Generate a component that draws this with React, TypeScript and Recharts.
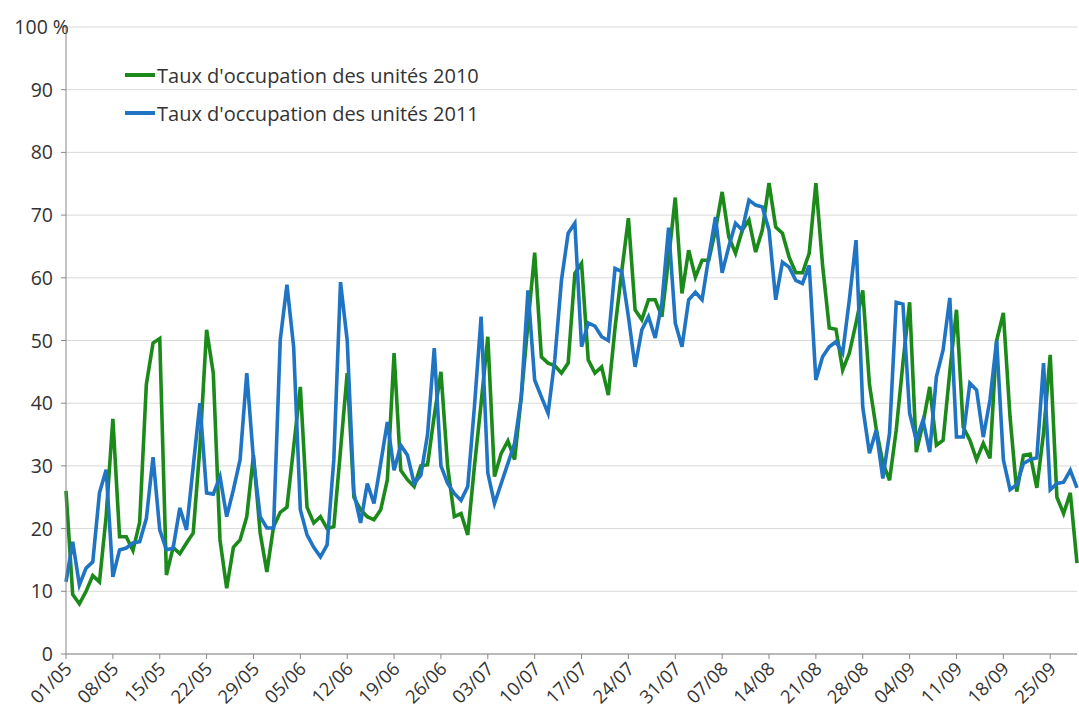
import React from "react";
import { LineChart, Line, XAxis, YAxis, CartesianGrid } from "recharts";

// taux d'occupation journalier, du 01/05 au 29/09
const occupation2010 = [
  26, 9.5, 8, 10, 12.5, 11.5, 22, 37.5, 18.7, 18.7, 16.5, 21, 43, 49.6, 50.3,
  12.6, 17, 16, 17.7, 19.3, 33, 51.7, 44.8, 18.2, 10.5, 17, 18.2, 21.9, 31.7,
  19.3, 13.1, 20.3, 22.6, 23.4, 33, 42.6, 23.4, 20.9, 21.9, 20, 20.3, 32.5,
  44.8, 25, 23, 21.9, 21.4, 23, 27.8, 48, 29.3, 27.8, 26.7, 30, 30.2, 38, 45,
  29.9, 21.9, 22.4, 19, 29.9, 40, 50.6, 28.3, 32, 34, 31, 41, 52.7, 64, 47.4,
  46.4, 46, 44.8, 46.4, 60.7, 62.3, 46.9, 44.8, 45.8, 41.3, 52, 61, 69.5, 54.9,
  53.3, 56.5, 56.5, 53.8, 63, 72.8, 57.5, 64.4, 60.1, 62.8, 62.8, 67.6, 73.7,
  66.5, 63.9, 67.6, 69.2, 64.1, 67.6, 75.1, 68.1, 67.1, 63.3, 60.8, 60.8, 63.9,
  75.1, 62, 52, 51.8, 45.3, 48, 52.8, 58, 43, 36, 30.5, 27.7, 35.7, 46.4, 56.1,
  32.2, 36.8, 42.6, 33.3, 34.1, 45, 54.9, 36.2, 34.1, 31, 33.6, 31.2, 50, 54.4,
  37.8, 25.9, 31.7, 31.9, 26.5, 35.2, 47.7, 25, 22.4, 25.7, 14.5,
];

const occupation2011 = [
  11.5, 17.9, 11, 13.7, 14.7, 25.7, 29.4, 12.3, 16.6, 16.9, 17.7, 17.9, 21.6,
  31.4, 19.8, 16.6, 16.9, 23.3, 19.8, 29.9, 40, 25.7, 25.5, 28.3, 21.9, 26.2,
  31, 44.8, 31, 21.9, 20.1, 20.1, 50.1, 58.9, 49, 23, 19, 17, 15.5, 17.4, 31,
  59.3, 50, 25.7, 20.9, 27.2, 24, 30.4, 37, 29.3, 33.3, 31.7, 27.2, 28.5, 35,
  48.8, 30, 27.2, 25.6, 24.5, 26.7, 39.4, 53.8, 28.9, 24, 27.2, 30.4, 33.6, 41,
  58, 43.7, 41, 38.4, 46.9, 59.6, 67.1, 68.7, 49, 52.8, 52.3, 50.6, 50, 61.5,
  61, 53.8, 45.8, 51.7, 53.8, 50.4, 56, 68, 52.8, 49, 56.5, 57.7, 56.5, 63.3,
  69.7, 60.8, 65, 68.7, 67.6, 72.4, 71.6, 71.3, 67.6, 56.5, 62.5, 61.7, 59.6,
  59.1, 62, 43.7, 47.4, 49, 49.8, 48, 56.5, 66, 39.4, 32, 35.7, 28, 35.2, 56.1,
  55.8, 38.4, 34.1, 37.3, 32.2, 44.2, 48.5, 56.8, 34.6, 34.6, 43.2, 42.1, 34.6,
  40.5, 50, 31, 26.2, 27, 30.4, 31, 31.3, 46.4, 26.2, 27.2, 27.4, 29.3, 26.5,
];

const seriesNames = [
  "Taux d'occupation des unités 2010",
  "Taux d'occupation des unités 2011",
];

const yTicks = [0, 10, 20, 30, 40, 50, 60, 70, 80, 90, 100];

const pad = (n: number) => (n < 10 ? "0" + n : "" + n);

// une catégorie par jour à partir du 1er mai
const days = occupation2010.map((_, i) => {
  const d = new Date(2011, 4, 1 + i);
  return pad(d.getDate()) + "/" + pad(d.getMonth() + 1);
});

const data = days.map((day, i) => ({
  day,
  v2010: occupation2010[i],
  v2011: occupation2011[i],
}));

const FONT = "'Open Sans', sans-serif";
const GREEN = "#1b8a1b";
const BLUE = "#1f74c4";

const XTick = (props: any) => {
  const { x, y, payload } = props;
  return (
    <text
      x={x + 7}
      y={y + 9}
      transform={`rotate(-45 ${x + 7} ${y + 9})`}
      textAnchor="end"
      fontSize={18.5}
      fontFamily={FONT}
      fill="#333"
    >
      {payload.value}
    </text>
  );
};

const YTick = (props: any) => {
  const { y, payload } = props;
  const top = payload.value === 100;
  return (
    <text
      x={top ? 69 : 53}
      y={y + 7}
      textAnchor="end"
      fontSize={19.5}
      fontFamily={FONT}
      fill="#333"
    >
      {top ? "100 %" : payload.value}
    </text>
  );
};

export default function App() {
  return (
    <div style={{ position: "absolute", left: 0, top: 0, background: "#fff" }}>
      <LineChart
        width={1079}
        height={722}
        data={data}
        margin={{ top: 27, right: 2, bottom: 0, left: 0 }}
      >
        <CartesianGrid vertical={false} stroke="#d9d9d9" />
        <XAxis
          dataKey="day"
          interval={6}
          height={68}
          tick={<XTick />}
          tickLine={{ stroke: "#888" }}
          tickSize={5}
          axisLine={{ stroke: "#888" }}
        />
        <YAxis
          domain={[0, 100]}
          ticks={yTicks}
          width={66}
          tick={<YTick />}
          tickLine={{ stroke: "#888" }}
          tickSize={5}
          axisLine={{ stroke: "#888" }}
        />
        <Line
          type="linear"
          dataKey="v2010"
          name={seriesNames[0]}
          stroke={GREEN}
          strokeWidth={3.6}
          dot={false}
          isAnimationActive={false}
        />
        <Line
          type="linear"
          dataKey="v2011"
          name={seriesNames[1]}
          stroke={BLUE}
          strokeWidth={3.6}
          dot={false}
          isAnimationActive={false}
        />
      </LineChart>
      {/* légende posée dans la zone du graphique */}
      <div
        style={{
          position: "absolute",
          left: 125,
          top: 56,
          fontFamily: FONT,
          fontSize: 20,
          color: "#333",
        }}
      >
        {seriesNames.map((label, i) => (
          <div
            key={label}
            style={{ display: "flex", alignItems: "center", height: 38 }}
          >
            <span
              style={{
                width: 30,
                height: 4,
                background: i === 0 ? GREEN : BLUE,
                display: "block",
                marginRight: 2,
              }}
            />
            <span>{label}</span>
          </div>
        ))}
      </div>
    </div>
  );
}
